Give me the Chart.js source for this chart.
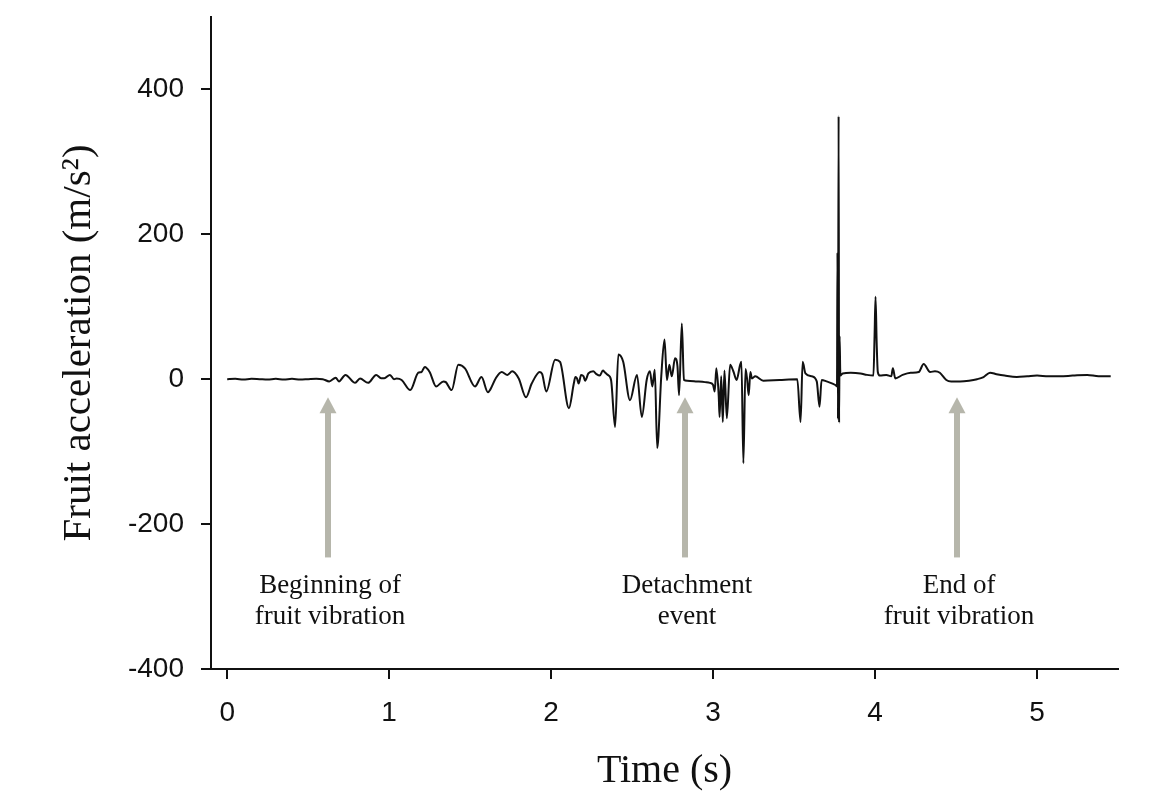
<!DOCTYPE html>
<html>
<head>
<meta charset="utf-8">
<script src="https://cdn.jsdelivr.net/npm/chart.js@4/dist/chart.umd.min.js"></script>
<style>
  html, body { margin: 0; padding: 0; background: #ffffff; }
  #wrap { width: 1172px; height: 797px; }
</style>
</head>
<body>
<div id="wrap"><canvas id="c" width="1172" height="797"></canvas></div>
<script>
// ---- Data ----
const timeSec = [
  0.00,0.05,0.10,0.15,0.20,0.25,0.30,0.35,0.40,0.45,0.50,0.55,0.59,
  0.63,0.67,0.69,0.73,0.79,0.82,0.87,0.92,0.95,0.97,1.005,1.03,1.046,1.077,
  1.13,1.18,1.20,1.22,1.25,1.29,1.335,1.35,1.386,1.427,1.468,1.53,1.57,1.61,1.625,
  1.66,1.695,1.73,1.76,1.80,1.845,1.88,1.93,1.945,1.97,2.025,2.055,2.11,2.14,
  2.15,2.16,2.17,2.185,2.20,2.21,2.23,2.26,2.28,2.30,2.32,2.33,2.35,2.37,2.395,2.415,2.445,2.487,
  2.53,2.56,2.59,2.61,2.625,2.64,2.655,2.68,2.70,2.715,2.73,2.745,
  2.765,2.78,2.79,2.807,2.82,2.84,2.90,2.95,2.98,3.00,3.01,3.02,
  3.035,3.04,3.05,3.06,3.07,3.085,3.105,3.125,3.145,3.167,3.175,
  3.187,3.20,3.21,3.22,3.23,3.24,3.26,3.31,3.41,3.52,3.54,3.553,
  3.57,3.61,3.64,3.657,3.67,3.70,3.755,3.765,3.768,3.771,3.775,
  3.778,3.781,3.786,3.80,3.85,3.91,3.95,3.99,3.997,4.003,4.01,
  4.017,4.03,4.07,4.10,4.11,4.125,4.17,4.22,4.27,4.30,4.34,4.37,
  4.40,4.44,4.47,4.525,4.58,4.63,4.67,4.71,4.75,4.80,4.875,4.94,
  5.00,5.07,5.14,5.22,5.31,5.38,5.455
];
const accel = [
  0,0.5,-0.5,0.5,0,-0.5,0.5,-0.5,0.5,-0.5,0,0.5,0,
  -3,2,-3,6,-5,1,-5,6,1.5,1.5,6,0,1,-1,
  -15,9,10,17,10,-10,-3,-4,-15,20,15,-10,3,-18,-14,
  2,10,6,11,1,-25,-6,10,7,-17,27,24,-40,-6,
  3,1,-6,6,4,-2,8,11,7,5,12,10,6,-1,-66,34,24,-29,
  6,-52,-1,11,-10,13,-95,4,55,-1,20,4,
  29,18,-22,77,-1,-2,-3,-4,-5,-8,-17,15,
  -24,-52,4,-59,12,-54,20,11,-1,20,24,
  -116,14,0,-22,10,1,4,-2,-1,0,-59,24,
  8,4,-3,-38,-1,-3,-8,-10,175,-55,363,
  -60,60,5,8,9,8,6,5,60,114,50,
  10,5,6,4,15,1,6,9,10,21,10,11,
  9,-1,-3,-3,-2,0,3,9,7,5,3,4,
  5,4,4,5,6,4,4
];
const xTickValues = [0, 1, 2, 3, 4, 5];
const yTickValues = [-400, -200, 0, 200, 400];
const xTitle = 'Time (s)';
const yTitle = 'Fruit acceleration (m/s\u00B2)';
const arrowTimes = [0.62, 2.825, 4.505];
const arrowLabels = [
  ['Beginning of', 'fruit vibration'],
  ['Detachment', 'event'],
  ['End of', 'fruit vibration']
];
const arrowTipValue = -25;
const arrowTailValue = -246;

// ---- Annotation plugin (arrows + labels, positioned through the scales) ----
const arrowPlugin = {
  id: 'arrows',
  afterDatasetsDraw(chart) {
    const ctx = chart.ctx;
    const xs = chart.scales.x, ys = chart.scales.y;
    ctx.save();
    arrowTimes.forEach((t, i) => {
      const px = Math.round(xs.getPixelForValue(t));
      const tip = ys.getPixelForValue(arrowTipValue);
      const tail = ys.getPixelForValue(arrowTailValue);
      const headLen = 16, headHalf = 8.5;
      ctx.fillStyle = '#b6b6ab';
      ctx.fillRect(px - 3, tip + headLen - 1, 6, tail - tip - headLen + 1);
      ctx.beginPath();
      ctx.moveTo(px, tip);
      ctx.lineTo(px + headHalf, tip + headLen);
      ctx.lineTo(px - headHalf, tip + headLen);
      ctx.closePath();
      ctx.fill();
      ctx.fillStyle = '#111111';
      ctx.font = '27px "Liberation Serif", "Times New Roman", serif';
      ctx.textAlign = 'center';
      ctx.textBaseline = 'alphabetic';
      arrowLabels[i].forEach((line, k) => {
        ctx.fillText(line, px + 2, tail + 36 + k * 31);
      });
    });
    ctx.restore();
  }
};

const points = timeSec.map((t, i) => ({ x: t, y: accel[i] }));

new Chart(document.getElementById('c'), {
  type: 'line',
  data: {
    datasets: [{
      data: points,
      borderColor: '#111111',
      borderWidth: 2,
      pointRadius: 0,
      cubicInterpolationMode: 'monotone',
      fill: false
    }]
  },
  options: {
    responsive: false,
    animation: false,
    parsing: false,
    layout: { padding: { top: 17, right: 54, left: 0, bottom: 0 } },
    plugins: { legend: { display: false }, tooltip: { enabled: false } },
    scales: {
      x: {
        type: 'linear',
        min: -0.10,
        max: 5.5,
        afterBuildTicks(s) { s.ticks = xTickValues.map(v => ({ value: v })); },
        afterFit(s) { s.height = 128; s.paddingLeft = 0; s.paddingRight = 0; },
        border: { display: true, color: '#111111', width: 2 },
        grid: { drawOnChartArea: false, drawTicks: true, tickLength: 10, color: '#111111', lineWidth: 2 },
        ticks: {
          color: '#111111',
          padding: 17,
          maxRotation: 0,
          font: { family: '"Liberation Sans", Arial, sans-serif', size: 28 }
        },
        title: {
          display: true,
          text: xTitle,
          color: '#111111',
          padding: { top: 0, bottom: 2 },
          font: { family: '"Liberation Serif", "Times New Roman", serif', size: 40, lineHeight: 1.2 }
        }
      },
      y: {
        type: 'linear',
        min: -400,
        max: 500,
        afterBuildTicks(s) { s.ticks = yTickValues.map(v => ({ value: v })); },
        afterFit(s) { s.width = 211; s.paddingTop = 0; s.paddingBottom = 0; },
        border: { display: true, color: '#111111', width: 2 },
        grid: { drawOnChartArea: false, drawTicks: true, tickLength: 10, color: '#111111', lineWidth: 2 },
        ticks: {
          color: '#111111',
          padding: 17,
          font: { family: '"Liberation Sans", Arial, sans-serif', size: 28 }
        },
        title: {
          display: true,
          text: yTitle,
          color: '#111111',
          padding: { top: 55, bottom: 0 },
          font: { family: '"Liberation Serif", "Times New Roman", serif', size: 41, lineHeight: 1.2 }
        }
      }
    }
  },
  plugins: [arrowPlugin]
});
</script>
</body>
</html>
